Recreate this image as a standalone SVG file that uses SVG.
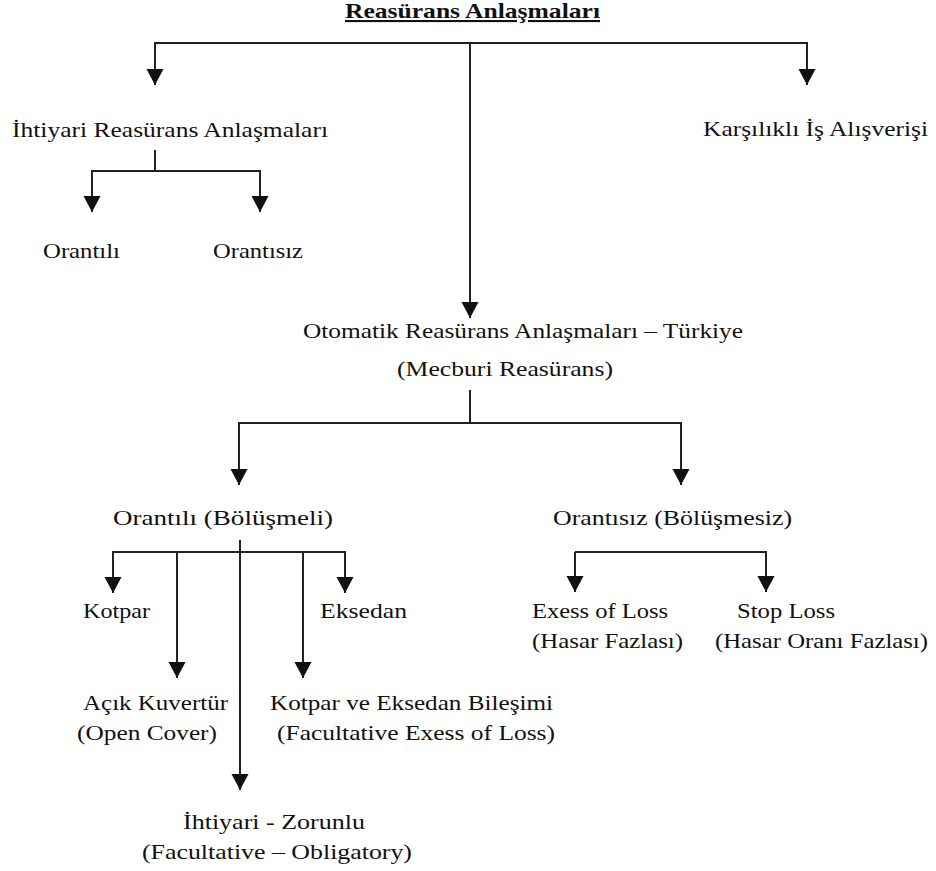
<svg xmlns="http://www.w3.org/2000/svg" width="936" height="871" viewBox="0 0 936 871">
<style>
text{font-family:"Liberation Serif","Times New Roman",serif;font-size:21px;fill:#111}
.t{font-weight:bold;text-decoration:underline}
.c{fill:none;stroke:#222;stroke-width:2}
</style>
<defs>
<marker id="ah" markerUnits="userSpaceOnUse" markerWidth="16" markerHeight="18" viewBox="0 -8 15 16" refX="15" refY="0" orient="auto">
<path d="M0,-8 L15,0 L0,8 z" fill="#111"/>
</marker>
</defs>
<rect width="936" height="871" fill="#fff"/>
<g id="connectors">
<path class="c" d="M470,43 H155 V85" marker-end="url(#ah)"/>
<path class="c" d="M470,43 H807 V85" marker-end="url(#ah)"/>
<path class="c" d="M470,43 V318" marker-end="url(#ah)"/>
<path class="c" d="M155,150 V171 H92 V212" marker-end="url(#ah)"/>
<path class="c" d="M155,171 H260 V212" marker-end="url(#ah)"/>
<path class="c" d="M470,390 V423 H239 V485" marker-end="url(#ah)"/>
<path class="c" d="M470,423 H681 V485" marker-end="url(#ah)"/>
<path class="c" d="M240,552 H113 V593" marker-end="url(#ah)"/>
<path class="c" d="M240,552 H345 V593" marker-end="url(#ah)"/>
<path class="c" d="M177,552 V678" marker-end="url(#ah)"/>
<path class="c" d="M303,552 V678" marker-end="url(#ah)"/>
<path class="c" d="M240,540 V790" marker-end="url(#ah)"/>
<path class="c" d="M575,552 V592" marker-end="url(#ah)"/>
<path class="c" d="M575,552 H766 V592" marker-end="url(#ah)"/>
</g>
<g id="title"><text class="t" x="345" y="18" textLength="255" lengthAdjust="spacingAndGlyphs">Reasürans Anlaşmaları</text></g>
<g id="ihtiyari"><text x="12" y="137" textLength="316" lengthAdjust="spacingAndGlyphs">İhtiyari Reasürans Anlaşmaları</text></g>
<g id="karsilikli"><text x="703" y="136" textLength="225" lengthAdjust="spacingAndGlyphs">Karşılıklı İş Alışverişi</text></g>
<g id="orantili1"><text x="43" y="258" textLength="77" lengthAdjust="spacingAndGlyphs">Orantılı</text></g>
<g id="orantisiz1"><text x="213" y="258" textLength="90" lengthAdjust="spacingAndGlyphs">Orantısız</text></g>
<g id="otomatik">
<text x="303" y="338" textLength="440" lengthAdjust="spacingAndGlyphs">Otomatik Reasürans Anlaşmaları – Türkiye</text>
<text x="397" y="376" textLength="216" lengthAdjust="spacingAndGlyphs">(Mecburi Reasürans)</text>
</g>
<g id="orantili2"><text x="113" y="525" textLength="220" lengthAdjust="spacingAndGlyphs">Orantılı (Bölüşmeli)</text></g>
<g id="orantisiz2"><text x="553" y="525" textLength="239" lengthAdjust="spacingAndGlyphs">Orantısız (Bölüşmesiz)</text></g>
<g id="kotpar"><text x="83" y="618" textLength="67" lengthAdjust="spacingAndGlyphs">Kotpar</text></g>
<g id="eksedan"><text x="320" y="618" textLength="87" lengthAdjust="spacingAndGlyphs">Eksedan</text></g>
<g id="acik">
<text x="83" y="710" textLength="145" lengthAdjust="spacingAndGlyphs">Açık Kuvertür</text>
<text x="77" y="740" textLength="140" lengthAdjust="spacingAndGlyphs">(Open Cover)</text>
</g>
<g id="kotpar-eksedan">
<text x="270" y="710" textLength="283" lengthAdjust="spacingAndGlyphs">Kotpar ve Eksedan Bileşimi</text>
<text x="277" y="740" textLength="278" lengthAdjust="spacingAndGlyphs">(Facultative Exess of Loss)</text>
</g>
<g id="ihtiyari-zorunlu">
<text x="183" y="829" textLength="182" lengthAdjust="spacingAndGlyphs">İhtiyari - Zorunlu</text>
<text x="142" y="859" textLength="270" lengthAdjust="spacingAndGlyphs">(Facultative – Obligatory)</text>
</g>
<g id="exess">
<text x="532" y="618" textLength="136" lengthAdjust="spacingAndGlyphs">Exess of Loss</text>
<text x="532" y="648" textLength="151" lengthAdjust="spacingAndGlyphs">(Hasar Fazlası)</text>
</g>
<g id="stoploss">
<text x="737" y="618" textLength="98" lengthAdjust="spacingAndGlyphs">Stop Loss</text>
<text x="715" y="648" textLength="213" lengthAdjust="spacingAndGlyphs">(Hasar Oranı Fazlası)</text>
</g>
</svg>
